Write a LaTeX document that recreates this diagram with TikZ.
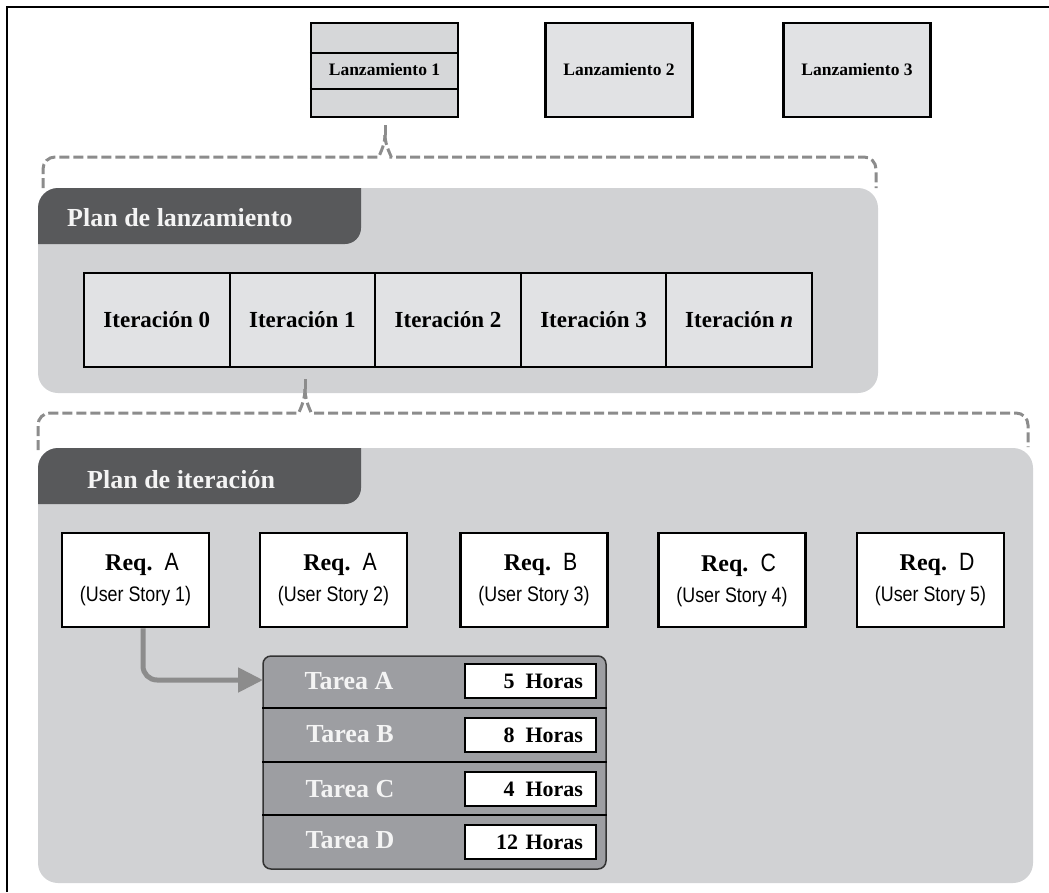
\documentclass[tikz,border=0pt]{standalone}
\usepackage{fontspec}
\setmainfont{Liberation Serif}
\newfontfamily\narrowsans[FakeStretch=0.85]{Liberation Sans}
\usetikzlibrary{arrows.meta}
\definecolor{panelgray}{HTML}{D1D2D4}
\definecolor{tabgray}{HTML}{58595B}
\definecolor{boxgray}{HTML}{E1E2E4}
\definecolor{boxgrayd}{HTML}{D6D7D9}
\definecolor{taskgray}{HTML}{9D9EA2}
\definecolor{linegray}{HTML}{8C8C8C}
\definecolor{lighttext}{HTML}{F4F4F4}
\tikzset{
  relbox/.style={draw=black, line width=2.5pt, fill=boxgray, minimum width=147pt, minimum height=94pt, inner sep=0pt, text height=11.5pt, text depth=0pt, font=\fontsize{17.5}{20}\selectfont\bfseries},
  iterbox/.style={draw=black, line width=2pt, fill=boxgray, minimum width=145.6pt, minimum height=94pt, inner sep=0pt, text height=15.5pt, text depth=0pt, font=\fontsize{23}{26}\selectfont\bfseries},
  reqbox/.style={draw=black, line width=2.5pt, fill=white, minimum width=147pt, minimum height=94pt, align=center, inner sep=0pt, font=\fontsize{21}{31}\selectfont},
  tasklabel/.style={text=lighttext, inner sep=0pt, font=\fontsize{26}{30}\selectfont\bfseries},
  hourbox/.style={draw=black, line width=1.5pt, fill=white, text width=105pt, align=right, inner xsep=13pt, inner ysep=0pt, minimum height=34pt, font=\fontsize{22}{24}\selectfont\bfseries},
  bracepath/.style={draw=linegray, line width=3pt, dash pattern=on 10pt off 4pt},
  tabtitle/.style={text=lighttext, anchor=base west, inner sep=0pt, font=\fontsize{26}{30}\selectfont\bfseries},
  arrowline/.style={draw=linegray, line width=5pt, rounded corners=14pt, -{Triangle[length=25pt,width=24pt]}},
  sepline/.style={draw=black, line width=2.5pt},
}
\newcommand{\reqtxt}[2]{\hspace*{13pt}{\fontsize{24}{31}\selectfont\bfseries Req.}\hspace{12pt}{\narrowsans\fontsize{25}{31}\selectfont #1}\\{\narrowsans (User Story #2)}}
\begin{document}
\begin{tikzpicture}[x=1pt,y=-1pt]
\useasboundingbox (0,0) rectangle (1049,892);
% frame
\draw[line width=2pt] (7,892) -- (7,7) -- (1049,7);

% releases
\node[relbox, fill=boxgrayd] (L1) at (384.5,70) {Lanzamiento 1};
\draw[line width=1.5pt] (L1.west |- 0,53) -- (L1.east |- 0,53);
\draw[line width=1.5pt] (L1.west |- 0,89) -- (L1.east |- 0,89);
\node[relbox] (L2) at (619,70) {Lanzamiento 2};
\node[relbox] (L3) at (857,70) {Lanzamiento 3};

% brace 1
\coordinate (b1tip) at (385,124);
\draw[bracepath, rounded corners=12pt] (43,188) -- (43,157) -- (367,157) .. controls (378,157) and (385,146) .. (385,135);
\draw[bracepath] (385,135) -- (b1tip);
\draw[bracepath, rounded corners=12pt] (385,135) .. controls (385,146) and (392,157) .. (403,157) -- (876,157) -- (876,188);

% panel 1
\fill[panelgray, rounded corners=20pt] (38,188) rectangle (878,393);
\begin{scope}
\clip[rounded corners=20pt] (38,188) rectangle (878,393);
\fill[tabgray, rounded corners=16pt] (20,170) rectangle (361,244);
\end{scope}
\node[tabtitle] (t1) at (67,226) {Plan de lanzamiento};

\node[iterbox] (I0) at (156.8,320) {Iteración 0};
\node[iterbox] (I1) at (302.4,320) {Iteración 1};
\node[iterbox] (I2) at (448,320) {Iteración 2};
\node[iterbox] (I3) at (593.6,320) {Iteración 3};
\node[iterbox] (In) at (739.2,320) {Iteración \textit{n}};

% brace 2
\coordinate (b2tip) at (305,377);
\draw[bracepath, rounded corners=12pt] (38,450) -- (38,413) -- (287,413) .. controls (298,413) and (305,402) .. (305,389);
\draw[bracepath] (305,389) -- (b2tip);
\draw[bracepath, rounded corners=12pt] (305,389) .. controls (305,402) and (312,413) .. (323,413) -- (1028,413) -- (1028,447);

% panel 2
\fill[panelgray, rounded corners=20pt] (38,448) rectangle (1033,883);
\begin{scope}
\clip[rounded corners=20pt] (38,448) rectangle (1033,883);
\fill[tabgray, rounded corners=16pt] (20,430) rectangle (361,504);
\end{scope}
\node[tabtitle] (t2) at (87,488) {Plan de iteración};

\node[reqbox] (R1) at (135.5,580) {\reqtxt{A}{1}};
\node[reqbox] (R2) at (333.5,580) {\reqtxt{A}{2}};
\node[reqbox] (R3) at (534,580) {\reqtxt{B}{3}};
\node[reqbox] (R4) at (732,580) {\reqtxt{C}{4}};
\node[reqbox] (R5) at (930.5,580) {\reqtxt{D}{5}};

% task table
\node[draw=black!80, line width=1.5pt, rounded corners=8pt, fill=taskgray, minimum width=343pt, minimum height=213pt, inner sep=0pt] (T) at (434.5,762.5) {};
\draw[sepline] (T.west |- 0,708) -- (T.east |- 0,708);
\draw[sepline] (T.west |- 0,762) -- (T.east |- 0,762);
\draw[sepline] (T.west |- 0,815) -- (T.east |- 0,815);

\node[tasklabel] (TA) at (349,681) {Tarea A};
\node[tasklabel] (TB) at (350,734) {Tarea B};
\node[tasklabel] (TC) at (350,789) {Tarea C};
\node[tasklabel] (TD) at (350,840) {Tarea D};

\node[hourbox] (HA) at (530.5,681) {5\enspace Horas};
\node[hourbox] (HB) at (530.5,735) {8\enspace Horas};
\node[hourbox] (HC) at (530.5,789) {4\enspace Horas};
\node[hourbox] (HD) at (530.5,842) {12 Horas};

% arrow
\coordinate (arrowEnd) at (263,680);
\draw[arrowline] ([xshift=7.5pt]R1.south) |- (arrowEnd);
\end{tikzpicture}
\end{document}
